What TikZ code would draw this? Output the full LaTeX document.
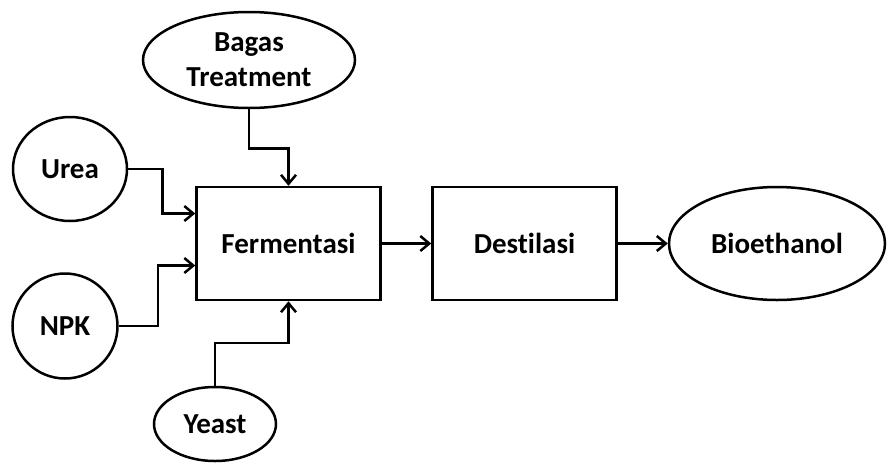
\documentclass[tikz,border=0pt]{standalone}
\usepackage{fontspec}
\setmainfont{Carlito}[Ligatures=NoCommon]
\usetikzlibrary{shapes.geometric,arrows.meta}

\tikzset{
  base/.style={draw=black, line width=2.5pt, inner sep=0pt, align=center,
               font=\bfseries\fontsize{29}{35}\selectfont},
  stepbox/.style={base, rectangle, minimum width=184pt, minimum height=113pt},
  oval/.style={base, ellipse},
  arr/.style={line width=2.5pt, -{Straight Barb[length=9pt,width=15pt,line width=2.5pt]}}
}

\begin{document}
\begin{tikzpicture}[x=1pt,y=-1pt]
  \useasboundingbox (0,0) rectangle (888,464);

  % process steps
  \node[stepbox] (ferm) at (288.5,243.5) {Fermentasi};
  \node[stepbox] (dest) at (524.5,243.5) {Destilasi};

  % inputs and product
  \node[oval, minimum width=212pt, minimum height=96pt] (bagas) at (249,60) {Bagas\\Treatment};
  \node[oval, minimum width=114pt, minimum height=104pt] (urea) at (70,169) {Urea};
  \node[oval, minimum width=105pt, minimum height=105pt] (npk) at (65,326) {NPK};
  \node[oval, minimum width=122pt, minimum height=74pt] (yeast) at (215,424) {Yeast};
  \node[oval, minimum width=216pt, minimum height=113pt] (bio) at (777,243.5) {Bioethanol};

  % connectors
  \draw[arr] (bagas.south) -- ++(0,39) -| (ferm.north);
  \draw[arr] (urea.east) -- ++(34,0) |- ([yshift=30pt]ferm.west);
  \draw[arr] (npk.east) -- ++(39,0) |- ([yshift=-22pt]ferm.west);
  \draw[arr] (yeast.north) -- ++(0,-43) -| (ferm.south);
  \draw[arr] (ferm) -- (dest);
  \draw[arr] (dest) -- (bio);
\end{tikzpicture}
\end{document}
